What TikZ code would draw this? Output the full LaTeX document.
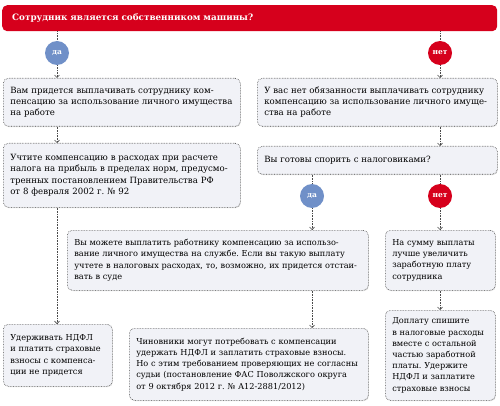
\documentclass[tikz,border=0pt]{standalone}
\usepackage{fontspec}
\setmainfont{DejaVu Serif}
\usepackage{xcolor}
\usetikzlibrary{arrows.meta, positioning, shadows}

\definecolor{titlered}{HTML}{D6001C}
\definecolor{yesblue}{HTML}{7090C8}
\definecolor{cardfill}{HTML}{F1F2F7}
\definecolor{cardline}{HTML}{4A4A4A}

\frenchspacing
\begin{document}
\begin{tikzpicture}[
    x=1pt, y=-1pt,
    card/.style={rectangle, draw=cardline, densely dotted, semithick, fill=cardfill, rounded corners=5pt,
        anchor=north west, inner xsep=7pt, inner ysep=5pt, align=left,
        font=\fontsize{8.2}{11.2}\selectfont,
        drop shadow={shadow xshift=0.6pt, shadow yshift=-0.8pt, opacity=0.25, fill=black!50}},
    bigcard/.style={card, font=\fontsize{8.6}{11.2}\selectfont},
    question/.style={rectangle, fill=titlered, rounded corners=5pt, anchor=north west,
        inner xsep=10pt, align=left, text=white, font=\bfseries\fontsize{8.8}{10}\selectfont},
    yesdot/.style={circle, fill=yesblue, minimum size=24pt, inner sep=0pt, text=white, font=\bfseries\fontsize{7.5}{8}\selectfont},
    nodot/.style={circle, fill=titlered, minimum size=24pt, inner sep=0pt, text=white, font=\bfseries\fontsize{7.5}{8}\selectfont},
    link/.style={draw=cardline, densely dotted, semithick},
    line/.style={link, -{Straight Barb[length=2.5pt, width=5pt]}}
]
\useasboundingbox (0,0) rectangle (500,406);

% question
\node[question, minimum width=495pt, minimum height=26pt, text width=475pt] (owner) at (2,5) {Сотрудник является собственником машины?};

% first answers
\node[yesdot] (yes1) at (57,53) {да};
\node[nodot] (no1) at (440,53) {нет};

\node[bigcard, minimum width=237pt, minimum height=48pt, text width=223pt] (pay) at (3,78)
    {Вам придется выплачивать сотруднику ком-\\пенсацию за использование личного имущества\\на работе};
\node[bigcard, minimum width=240pt, minimum height=48pt, text width=226pt] (nopay) at (257,78)
    {У вас нет обязанности выплачивать сотруднику\\компенсацию за использование личного имуще-\\ства на работе};

\node[bigcard, minimum width=237pt, minimum height=64pt, text width=223pt] (costs) at (3,143)
    {Учтите компенсацию в расходах при расчете\\налога на прибыль в пределах норм, предусмо-\\тренных постановлением Правительства РФ\\от 8 февраля 2002 г. № 92};
\node[bigcard, minimum width=240pt, minimum height=28pt, text width=226pt] (dispute) at (257,146)
    {Вы готовы спорить с налоговиками?};

% second answers
\node[yesdot] (yes2) at (312,196) {да};
\node[nodot] (no2) at (440,196) {нет};

\node[card, minimum width=301pt, minimum height=60pt, text width=287pt] (court) at (67,230)
    {Вы можете выплатить работнику компенсацию за использо-\\вание личного имущества на службе. Если вы такую выплату\\учтете в налоговых расходах, то, возможно, их придется отстаи-\\вать в суде};
\node[card, minimum width=110pt, minimum height=60pt, text width=96pt] (salary) at (385,230)
    {На сумму выплаты\\лучше увеличить\\заработную плату\\сотрудника};

\node[card, minimum width=109pt, minimum height=62pt, text width=95pt] (notax) at (3,324)
    {Удерживать НДФЛ\\и платить страховые\\взносы с компенса-\\ции не придется};
\node[card, minimum width=239pt, minimum height=72pt, text width=225pt] (judges) at (129,328)
    {Чиновники могут потребовать с компенсации\\удержать НДФЛ и заплатить страховые взносы.\\Но с этим требованием проверяющих не согласны\\судьи (постановление ФАС Поволжского округа\\от 9 октября 2012 г. № А12-2881/2012)};
\node[card, minimum width=110pt, minimum height=90pt, text width=96pt] (writeoff) at (385,310)
    {Доплату спишите\\в налоговые расходы\\вместе с остальной\\частью заработной\\платы. Удержите\\НДФЛ и заплатите\\страховые взносы};

% connectors
\draw[link] (yes1 |- owner.south) -- (yes1);
\draw[line] (yes1) -- (yes1 |- pay.north);
\draw[link] (no1 |- owner.south) -- (no1);
\draw[line] (no1) -- (no1 |- nopay.north);
\draw[line] (yes1 |- pay.south) -- (yes1 |- costs.north);
\draw[line] (yes1 |- costs.south) -- (yes1 |- notax.north);
\draw[line] (no1 |- nopay.south) -- (no1 |- dispute.north);
\draw[link] (yes2 |- dispute.south) -- (yes2);
\draw[line] (yes2) -- (yes2 |- court.north);
\draw[link] (no2 |- dispute.south) -- (no2);
\draw[line] (no2) -- (no2 |- salary.north);
\draw[line] (yes2 |- court.south) -- (yes2 |- judges.north);
\draw[line] (no2 |- salary.south) -- (no2 |- writeoff.north);

\end{tikzpicture}
\end{document}
